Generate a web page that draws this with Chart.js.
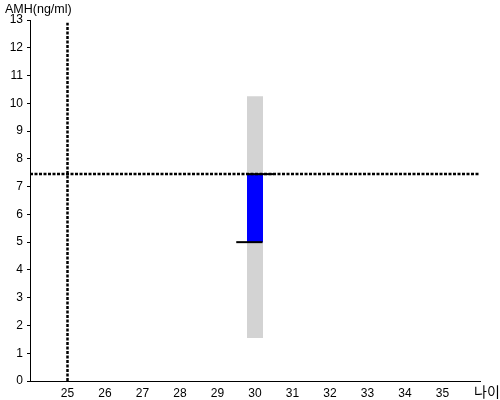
<!DOCTYPE html>
<html>
<head>
<meta charset="utf-8">
<script src="https://cdn.jsdelivr.net/npm/chart.js@4/dist/chart.umd.min.js"></script>
<style>
  body { margin: 0; background: #fff; }
  canvas { display: block; }
</style>
</head>
<body>
<canvas id="amhChart" width="500" height="400"></canvas>
<script>
// chart values
let age = 30;
let normalRange = [1.55, 10.25];   // gray band
let amhRange = [5, 7.45];          // blue bar
let lowMark = 5;
let highMark = 7.45;
let refAge = 25;
let refAmh = 7.45;
let xTicks = [25, 26, 27, 28, 29, 30, 31, 32, 33, 34, 35];
let xRange = [24, 36];
let yRange = [0, 13];

const axisTitles = {
    id: 'axisTitles',
    afterDraw(chart) {
        const c = chart.ctx;
        const a = chart.chartArea;
        c.save();
        c.fillStyle = '#000';
        c.textBaseline = 'middle';
        c.textAlign = 'left';
        c.font = '12.5px "Liberation Sans", Arial, sans-serif';
        c.fillText('AMH(ng/ml)', 5, 10);
        c.font = '14px "Noto Sans CJK KR", sans-serif';
        c.fillText('나이', a.right - 6, a.bottom + 11);
        c.restore();
    }
};

var ctx = document.getElementById('amhChart');
var chart = new Chart(ctx, {
    type: 'line',
    data: {
        datasets: [
            {
                data: [{x: age, y: normalRange[0]}, {x: age, y: normalRange[1]}],
                borderColor: '#d3d3d3',
                borderWidth: 16,
                borderCapStyle: 'butt',
                order: 6
            },
            {
                data: [{x: age, y: amhRange[0]}, {x: age, y: amhRange[1]}],
                borderColor: '#0000ff',
                borderWidth: 16,
                borderCapStyle: 'butt',
                order: 5
            },
            {
                // reference lines
                data: [{x: xRange[0], y: refAmh}, {x: xRange[1], y: refAmh}],
                borderColor: '#000',
                borderWidth: 2.5,
                borderDash: [3, 1.5],
                order: 4
            },
            {
                data: [{x: refAge, y: yRange[0]}, {x: refAge, y: yRange[1] - 0.1}],
                borderColor: '#000',
                borderWidth: 2.5,
                borderDash: [3, 1.5],
                order: 3
            },
            {
                data: [{x: age - 0.5, y: lowMark}, {x: age + 0.2, y: lowMark}],
                borderColor: '#000',
                borderWidth: 2,
                order: 2
            },
            {
                data: [{x: age - 0.2, y: highMark}, {x: age + 0.5, y: highMark}],
                borderColor: '#000',
                borderWidth: 2,
                order: 1
            }
        ]
    },
    options: {
        responsive: false,
        animation: false,
        layout: { padding: { top: 20, right: 20, left: 0, bottom: 0 } },
        elements: { point: { radius: 0 } },
        plugins: {
            legend: { display: false },
            tooltip: { enabled: false }
        },
        scales: {
            x: {
                type: 'linear',
                min: xRange[0],
                max: xRange[1],
                afterFit: s => { s.height = 19; },
                afterBuildTicks: s => { s.ticks = xTicks.map(v => ({value: v})); },
                grid: { display: false },
                border: { display: true, color: '#000', width: 1 },
                ticks: {
                    color: '#000',
                    padding: -3,
                    font: { family: '"Liberation Sans", Arial, sans-serif', size: 12 }
                }
            },
            y: {
                min: yRange[0],
                max: yRange[1],
                afterFit: s => { s.width = 30; },
                grid: { drawOnChartArea: false, drawTicks: true, tickLength: 3, color: '#000' },
                border: { display: true, color: '#000', width: 1 },
                ticks: {
                    stepSize: 1,
                    color: '#000',
                    padding: 4,
                    font: { family: '"Liberation Sans", Arial, sans-serif', size: 12 }
                }
            }
        }
    },
    plugins: [axisTitles]
});
</script>
</body>
</html>
